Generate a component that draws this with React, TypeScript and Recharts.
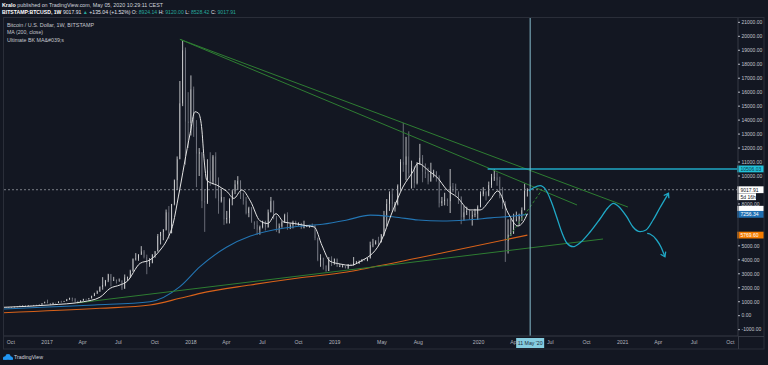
import React from 'react';
import { ComposedChart, Bar, Line, XAxis, YAxis, ReferenceLine } from 'recharts';

const FONT = '"Liberation Sans", Arial, sans-serif';
const EPOCH = Date.UTC(2018, 0, 1);
const day = (s: string) => Math.round((Date.parse(s + 'T00:00:00Z') - EPOCH) / 86400000);

// ---------- weekly candles (BITSTAMP:BTCUSD, 1W) ----------
const FIRST_WEEK = '2016-09-12';
const FIRST_OPEN = 605;

const close2016 = [608, 600, 610, 612, 640, 655, 700, 705, 705, 740, 735, 765, 770, 790, 890, 995];
const high2016 = [612, 610, 612, 620, 645, 660, 720, 740, 720, 755, 750, 770, 775, 795, 895, 1000];
const low2016 = [596, 592, 598, 605, 608, 630, 652, 690, 690, 700, 725, 730, 750, 765, 788, 888];

const close2017 = [905, 825, 925, 920, 1010, 995, 1050, 1150, 1270, 1230, 1010, 960, 1080, 1200, 1170, 1240, 1420, 1580, 1750, 2050, 2200, 2520, 2960, 2520, 2580, 2500, 2500, 1950, 2740, 2760, 3200, 4050, 4100, 4380, 4600, 4200, 3700, 3780, 4380, 4600, 5700, 5990, 6150, 7400, 5900, 8000, 9700, 11200, 15200, 19000, 13900, 13800];
const high2017 = [1150, 910, 935, 925, 1030, 1070, 1060, 1200, 1290, 1300, 1250, 1070, 1100, 1210, 1210, 1260, 1430, 1640, 1800, 2100, 2760, 2560, 3000, 2990, 2780, 2590, 2660, 2540, 2950, 2800, 3290, 4100, 4480, 4400, 4980, 4700, 4370, 4120, 4400, 4630, 5850, 6000, 6200, 7600, 7850, 8000, 9750, 11400, 16800, 19666, 19200, 16000];
const low2017 = [880, 750, 820, 880, 905, 930, 990, 1040, 1140, 1020, 950, 890, 950, 1070, 1150, 1160, 1230, 1400, 1560, 1700, 1860, 2100, 2400, 2100, 2480, 2300, 2450, 1840, 1920, 2480, 2700, 3150, 3950, 3930, 4350, 4100, 2970, 3500, 3750, 4150, 4600, 5100, 5400, 6100, 5500, 5900, 7900, 9000, 11200, 15000, 10800, 12000];

const close2018 = [16200, 13500, 11600, 11700, 8200, 8100, 10400, 9600, 11400, 9500, 8200, 8500, 6900, 7000, 8300, 8900, 9400, 9650, 8700, 8200, 7350, 7700, 6750, 6500, 6150, 6350, 6750, 6350, 7400, 8200, 7000, 6300, 6400, 6700, 7200, 6250, 6500, 6700, 6600, 6600, 6300, 6400, 6400, 6450, 6400, 5550, 4000, 4150, 3600, 3200, 4000, 3850, 4050];
const high2018 = [17200, 16400, 14000, 12000, 11700, 9000, 11200, 11700, 11500, 11700, 9900, 9100, 8500, 7500, 8400, 9000, 9700, 9990, 9700, 8800, 8500, 7800, 7780, 6750, 6800, 6450, 6800, 6800, 7600, 8500, 8250, 7150, 6600, 6800, 7300, 7400, 6600, 6800, 6800, 6680, 6650, 6800, 6500, 6500, 6600, 6500, 5600, 4400, 4150, 3600, 4200, 4250, 4100];
const low2018 = [12900, 12800, 9200, 10000, 7700, 6000, 8000, 9300, 9400, 8400, 7300, 8100, 6500, 6600, 6600, 7900, 8700, 9000, 8350, 7950, 7250, 7050, 6650, 6200, 5780, 5800, 6250, 6100, 6300, 7400, 6900, 6000, 5900, 6300, 6650, 6150, 6200, 6250, 6450, 6450, 6200, 6250, 6350, 6300, 6350, 5400, 3900, 3500, 3300, 3150, 3200, 3550, 3650];

const close2019 = [3500, 3550, 3550, 3400, 3650, 3600, 3800, 3800, 3900, 4000, 3970, 4100, 5050, 5100, 5300, 5250, 5800, 7200, 8000, 8700, 8000, 8000, 9300, 11000, 10800, 11400, 10200, 10550, 9500, 10900, 11300, 10300, 10150, 9600, 10300, 10300, 9950, 8050, 8200, 8300, 8200, 9250, 9200, 8800, 8500, 7050, 7400, 7500, 7100, 7200, 7300, 7800];
const high2019 = [4100, 3700, 3650, 3560, 3700, 3720, 4200, 3920, 3950, 4050, 4050, 4150, 5300, 5500, 5400, 5650, 5850, 7500, 8350, 8900, 9100, 8150, 9400, 11200, 13800, 12800, 13200, 11100, 10700, 11000, 12300, 11500, 10900, 10600, 10950, 10450, 10350, 10050, 8500, 8800, 8400, 10500, 9500, 9450, 8900, 8550, 7850, 7800, 7600, 7500, 7650, 7900];
const low2019 = [3500, 3480, 3450, 3380, 3350, 3550, 3600, 3700, 3700, 3850, 3950, 3900, 4100, 4900, 5100, 5000, 5250, 5700, 6400, 7500, 7450, 7450, 7900, 8950, 10300, 9700, 9900, 9100, 9150, 9400, 10800, 9550, 9850, 9400, 9600, 9900, 9600, 7750, 7850, 7900, 7850, 7350, 8850, 8650, 8000, 6550, 6800, 7200, 6900, 6450, 7050, 6850];

const close2020 = [8700, 8900, 8600, 9350, 9900, 9900, 9700, 8550, 8050, 5350, 5800, 5900, 6800, 6900, 7100, 7550, 8924.14, 9017.91];
const high2020 = [8900, 9200, 8900, 9600, 10150, 10500, 10250, 9950, 9200, 8200, 6900, 6950, 7300, 7450, 7300, 7750, 9450, 9120];
const low2020 = [7750, 8550, 8250, 8550, 9150, 9650, 9300, 8400, 7650, 3850, 4450, 5700, 5850, 6750, 6450, 6780, 7550, 8528.42];

const closes = [...close2016, ...close2017, ...close2018, ...close2019, ...close2020];
const highs = [...high2016, ...high2017, ...high2018, ...high2019, ...high2020];
const lows = [...low2016, ...low2017, ...low2018, ...low2019, ...low2020];

const candles = closes.map((c, i) => ({
  t: day(FIRST_WEEK) + i * 7,
  open: i === 0 ? FIRST_OPEN : closes[i - 1],
  close: c,
  high: highs[i],
  low: lows[i],
}));

// ---------- moving averages ----------
const whiteMA: [string, number][] = [
  ['2016-09-12', 600], ['2017-01-08', 770], ['2017-04-03', 1000], ['2017-05-15', 1320], ['2017-06-10', 1960],
  ['2017-07-05', 2200], ['2017-07-22', 2430], ['2017-08-25', 3750], ['2017-09-19', 3990], ['2017-10-15', 4700],
  ['2017-11-01', 5420], ['2017-11-17', 6610], ['2017-11-30', 8500], ['2017-12-30', 13050], ['2018-01-11', 14600],
  ['2018-01-20', 14500], ['2018-01-28', 13530], ['2018-02-04', 11000], ['2018-02-10', 9710], ['2018-02-23', 9480],
  ['2018-03-07', 9360], ['2018-03-20', 9140], ['2018-04-02', 8900], ['2018-04-20', 8400], ['2018-05-10', 9000],
  ['2018-06-01', 8200], ['2018-06-25', 6800], ['2018-07-15', 6600], ['2018-08-05', 7300], ['2018-08-25', 6700],
  ['2018-09-20', 6600], ['2018-10-20', 6450], ['2018-11-10', 6350], ['2018-11-30', 5000], ['2018-12-20', 3900],
  ['2019-01-15', 3700], ['2019-02-10', 3600], ['2019-03-06', 3870], ['2019-04-26', 5200], ['2019-05-29', 7570],
  ['2019-06-23', 9210], ['2019-07-18', 10290], ['2019-07-31', 10900], ['2019-08-31', 10290], ['2019-09-17', 9930],
  ['2019-10-13', 9000], ['2019-11-07', 8500], ['2019-12-10', 7570], ['2020-01-05', 7570], ['2020-01-30', 8280],
  ['2020-02-19', 8930], ['2020-03-16', 7350], ['2020-04-10', 6420], ['2020-04-23', 6700], ['2020-05-04', 7300],
];
const blueMA: [string, number][] = [
  ['2016-09-12', 480], ['2017-01-01', 620], ['2017-05-01', 770], ['2017-09-19', 1000], ['2017-12-04', 2080],
  ['2018-01-24', 3510], ['2018-04-01', 4900], ['2018-06-01', 5700], ['2018-08-01', 6150], ['2018-10-01', 6400],
  ['2018-12-01', 6550], ['2019-02-01', 6850], ['2019-04-01', 7200], ['2019-06-01', 7070], ['2019-08-01', 6850],
  ['2019-10-01', 6780], ['2019-12-01', 6850], ['2020-02-01', 7000], ['2020-04-01', 7140], ['2020-05-04', 7256.34],
];
const orangeMA: [string, number][] = [
  ['2016-09-12', 215], ['2017-05-15', 530], ['2017-09-19', 765], ['2017-12-04', 1245], ['2018-01-24', 1600],
  ['2018-06-01', 2200], ['2018-10-01', 2700], ['2019-02-01', 3130], ['2019-03-24', 3400], ['2019-10-03', 4500],
  ['2020-05-04', 5769.6],
];

// ---------- drawings ----------
const projection: [string, number][] = [
  ['2020-05-08', 8926], ['2020-05-21', 9177], ['2020-06-05', 9305], ['2020-06-20', 8998], ['2020-07-03', 8210],
  ['2020-07-17', 7086], ['2020-07-31', 5920], ['2020-08-12', 5204], ['2020-08-28', 4939], ['2020-09-14', 5204],
  ['2020-10-10', 5991], ['2020-11-04', 6922], ['2020-11-24', 7709], ['2020-12-08', 8046], ['2020-12-20', 7852],
  ['2021-01-11', 7086], ['2021-01-27', 6349], ['2021-02-14', 6013], ['2021-03-01', 6134], ['2021-03-19', 6850],
  ['2021-04-05', 7709], ['2021-04-27', 8761],
];
const projectionBranch: [string, number][] = [
  ['2021-03-04', 5898], ['2021-03-11', 5848], ['2021-03-28', 5419], ['2021-04-08', 4918], ['2021-04-18', 4223],
];
const arrowUp: [string, number][] = [['2021-04-15', 8604], ['2021-04-27', 8761], ['2021-04-28', 8403]];
const arrowDown: [string, number][] = [['2021-04-20', 4581], ['2021-04-18', 4223], ['2021-04-07', 4395]];

const trendUpper: [string, number][] = [['2017-12-04', 19785], ['2021-01-14', 7780]];
const trendLower: [string, number][] = [['2017-12-04', 19785], ['2020-09-07', 7925]];
const trendSupport: [string, number][] = [['2017-03-18', 910], ['2020-11-12', 5490]];
const trendDashed: [string, number][] = [['2020-03-13', 5420], ['2020-06-10', 9000]];

const RESISTANCE = 10506.03;
const RESISTANCE_FROM = '2020-01-24';
const LAST_PRICE = 9017.91;
const CURSOR_DATE = '2020-05-11';
const WHITE_TAG = 7620;

// ---------- axes ----------
const X_MIN = -477;
const X_MAX = 1388.5;
const Y_MIN = -1453;
const Y_MAX = 21310;
// 6000, 7000 and 9000 sit under the price tags in the reference
const priceTicks = [-1000, 0, 1000, 2000, 3000, 4000, 5000, 8000, 10000, 11000, 12000, 13000, 14000, 15000, 16000, 17000, 18000, 19000, 20000, 21000];
const timeTicks: [string, string][] = [
  ['2016-10-01', 'Oct'], ['2017-01-01', '2017'], ['2017-04-01', 'Apr'], ['2017-07-01', 'Jul'], ['2017-10-01', 'Oct'],
  ['2018-01-01', '2018'], ['2018-04-01', 'Apr'], ['2018-07-01', 'Jul'], ['2018-10-01', 'Oct'], ['2019-01-01', '2019'],
  ['2019-05-01', 'May'], ['2019-08-01', 'Aug'], ['2020-01-01', '2020'], ['2020-04-01', 'Apr'], ['2020-07-01', 'Jul'],
  ['2020-10-01', 'Oct'], ['2021-01-01', '2021'], ['2021-04-01', 'Apr'], ['2021-07-01', 'Jul'], ['2021-10-01', 'Oct'],
];
const tickLabel: Record<number, string> = {};
timeTicks.forEach(([s, l]) => { tickLabel[day(s)] = l; });

const series = (rows: [string, number][]) => rows.map(([s, v]) => ({ t: day(s), v }));
const seg = (rows: [string, number][]) => rows.map(([s, v]) => ({ x: day(s), y: v }));

const Candle = (props: any) => {
  const { x, y, width, height, payload } = props;
  if (!payload || x == null) return null;
  const top = Math.min(y, y + height);
  const h = Math.abs(height);
  const { open, close, high, low } = payload;
  const range = high - low || 1;
  const py = (v: number) => top + ((high - v) / range) * h;
  const up = close >= open;
  const color = up ? '#ffffff' : '#8c8f99';
  const cx = x + width / 2;
  const bt = py(Math.max(open, close));
  const bb = py(Math.min(open, close));
  return (
    <g>
      <line x1={cx} x2={cx} y1={top} y2={top + h} stroke={color} strokeWidth={0.7} />
      <rect x={x} y={bt} width={width} height={Math.max(bb - bt, 0.8)} fill={color} />
    </g>
  );
};

const Tag = (p: any) => {
  const vb = p.viewBox;
  if (!vb) return null;
  const x = vb.x + vb.width - 1;
  const y = vb.y + (p.dy || 0);
  return (
    <g>
      <rect x={x} y={y - 3.4} width={p.w || 27} height={6.8} fill={p.bg} />
      {p.text ? <text x={x + 3.5} y={y + 1.8} fontSize={5} fontFamily={FONT} fill={p.fg}>{p.text}</text> : null}
    </g>
  );
};

const DateTag = (p: any) => {
  const vb = p.viewBox;
  if (!vb) return null;
  const x = vb.x;
  const bottom = vb.y + vb.height;
  return (
    <g>
      <rect x={x - 14} y={bottom + 2} width={28} height={10} fill="#86cde0" />
      <text x={x} y={bottom + 8.8} textAnchor="middle" fontSize={5.2} fontFamily={FONT} fill="#1b2a3a">{"11 May '20"}</text>
    </g>
  );
};

const BG = '#131722';
const GREEN = '#2e7d32';
const CYAN = '#1fa8c6';

export default function App() {
  return (
    <div style={{ position: 'fixed', left: 0, top: 0, width: 768, height: 365, background: BG, overflow: 'hidden' }}>
      <ComposedChart width={768} height={365} data={candles} margin={{ top: 18, right: 3, bottom: 15, left: 3 }}>
        <XAxis
          dataKey="t"
          type="number"
          domain={[X_MIN, X_MAX]}
          allowDataOverflow
          ticks={timeTicks.map(([s]) => day(s))}
          tickFormatter={(v: number) => tickLabel[v] || ''}
          interval={0}
          height={14}
          tickLine={false}
          tickSize={0}
          tickMargin={4}
          axisLine={{ stroke: '#363a45' }}
          tick={{ fontSize: 5.2, fill: '#b2b5be', fontFamily: FONT }}
        />
        <YAxis
          orientation="right"
          width={27}
          domain={[Y_MIN, Y_MAX]}
          allowDataOverflow
          ticks={priceTicks}
          interval={0}
          tickFormatter={(v: number) => v.toFixed(2)}
          tickSize={2}
          tickMargin={1.5}
          tickLine={{ stroke: '#b2b5be' }}
          axisLine={{ stroke: '#363a45' }}
          tick={{ fontSize: 5, fill: '#c3c6ce', fontFamily: FONT }}
        />

        <ReferenceLine y={LAST_PRICE} stroke="#9598a1" strokeDasharray="2 2" strokeOpacity={0.8}
          label={(p: any) => <Tag viewBox={p.viewBox} text="9017.91" bg="#ffffff" fg="#131722" />} />
        <ReferenceLine y={LAST_PRICE} strokeOpacity={0}
          label={(p: any) => <Tag viewBox={p.viewBox} dy={7} w={19} text="5d 16h" bg="#ffffff" fg="#131722" />} />
        <ReferenceLine y={WHITE_TAG} strokeOpacity={0}
          label={(p: any) => <Tag viewBox={p.viewBox} text="" bg="#ffffff" fg="#131722" />} />
        <ReferenceLine y={7256.34} strokeOpacity={0}
          label={(p: any) => <Tag viewBox={p.viewBox} text="7256.34" bg="#1f6fb2" fg="#ffffff" />} />
        <ReferenceLine y={5769.6} strokeOpacity={0}
          label={(p: any) => <Tag viewBox={p.viewBox} text="5769.60" bg="#f57c00" fg="#ffffff" />} />

        <Line data={series(blueMA)} dataKey="v" type="monotone" stroke="#2375b3" strokeWidth={1.1} dot={false} isAnimationActive={false} />
        <Line data={series(orangeMA)} dataKey="v" type="monotone" stroke="#d8621a" strokeWidth={1.1} dot={false} isAnimationActive={false} />

        <ReferenceLine segment={seg(trendUpper)} stroke={GREEN} strokeWidth={1} />
        <ReferenceLine segment={seg(trendLower)} stroke={GREEN} strokeWidth={1} />
        <ReferenceLine segment={seg(trendSupport)} stroke={GREEN} strokeWidth={1} />
        <ReferenceLine segment={seg(trendDashed)} stroke={GREEN} strokeWidth={1} strokeDasharray="3 2" />

        <Bar dataKey={(p: any) => [p.low, p.high]} barSize={2} shape={(p: any) => <Candle {...p} />} isAnimationActive={false} />

        <Line data={series(whiteMA)} dataKey="v" type="monotone" stroke="#e4e4e4" strokeWidth={1} dot={false} isAnimationActive={false} />

        <ReferenceLine segment={[{ x: day(RESISTANCE_FROM), y: RESISTANCE }, { x: X_MAX, y: RESISTANCE }]} stroke={CYAN} strokeWidth={1.4}
          label={(p: any) => <Tag viewBox={p.viewBox} text="10506.03" bg="#22c1d8" fg="#0d3a4a" />} />
        <ReferenceLine x={day(CURSOR_DATE)} stroke="#86bccd" strokeWidth={1}
          label={(p: any) => <DateTag viewBox={p.viewBox} />} />

        <Line data={series(projection)} dataKey="v" type="monotone" stroke={CYAN} strokeWidth={1.3} dot={false} isAnimationActive={false} />
        <Line data={series(projectionBranch)} dataKey="v" type="monotone" stroke={CYAN} strokeWidth={1.3} dot={false} isAnimationActive={false} />
        <Line data={series(arrowUp)} dataKey="v" type="linear" stroke={CYAN} strokeWidth={1.3} dot={false} isAnimationActive={false} />
        <Line data={series(arrowDown)} dataKey="v" type="linear" stroke={CYAN} strokeWidth={1.3} dot={false} isAnimationActive={false} />
      </ComposedChart>

      <svg width={768} height={365} style={{ position: 'absolute', left: 0, top: 0, pointerEvents: 'none' }}>
        <rect x={3.5} y={17.5} width={760.5} height={331.5} fill="none" stroke="#2a2e39" />
        <line x1={738.5} y1={336} x2={738.5} y2={349} stroke="#363a45" />
        <line x1={738} y1={336.5} x2={764} y2={336.5} stroke="#363a45" />

        <text x={2} y={6.9} fontSize={5.2} fontFamily={FONT} fill="#d1d4dc" textLength={161} lengthAdjust="spacingAndGlyphs">
          <tspan fontWeight="bold" fill="#ffffff">Kralo</tspan> published on TradingView.com, May 05, 2020 10:29:11 CEST
        </text>
        <text x={2} y={14.2} fontSize={5.2} fontFamily={FONT} fill="#e0e3eb" textLength={234} lengthAdjust="spacingAndGlyphs">
          <tspan fontWeight="bold" fill="#ffffff">BITSTAMP:BTCUSD, 1W</tspan> 9017.91 <tspan fill="#26a69a">▲</tspan> +135.04 (+1.52%) O: <tspan fill="#26a69a">8924.14</tspan> H: <tspan fill="#26a69a">9120.00</tspan> L: <tspan fill="#26a69a">8528.42</tspan> C: <tspan fill="#26a69a">9017.91</tspan>
        </text>

        <text x={7} y={26.9} fontSize={5} fontFamily={FONT} fill="#c3c6ce" textLength={87} lengthAdjust="spacingAndGlyphs">Bitcoin / U.S. Dollar, 1W, BITSTAMP</text>
        <text x={7} y={34.2} fontSize={5} fontFamily={FONT} fill="#c3c6ce" textLength={36} lengthAdjust="spacingAndGlyphs">MA (200, close)</text>
        <text x={7} y={41.6} fontSize={5} fontFamily={FONT} fill="#c3c6ce" textLength={57} lengthAdjust="spacingAndGlyphs">{'Ultimate BK MA&#039;s'}</text>

        <g fill="#2196f3">
          <ellipse cx={8} cy={356.2} rx={2.6} ry={2.2} />
          <ellipse cx={5.4} cy={358} rx={2.4} ry={1.8} />
          <ellipse cx={10.4} cy={358} rx={2.2} ry={1.8} />
          <rect x={3} y={357.6} width={10} height={2.2} />
        </g>
        <text x={14} y={358.9} fontSize={5.2} fontFamily={FONT} fill="#d1d4dc" textLength={29} lengthAdjust="spacingAndGlyphs">TradingView</text>
      </svg>
    </div>
  );
}
